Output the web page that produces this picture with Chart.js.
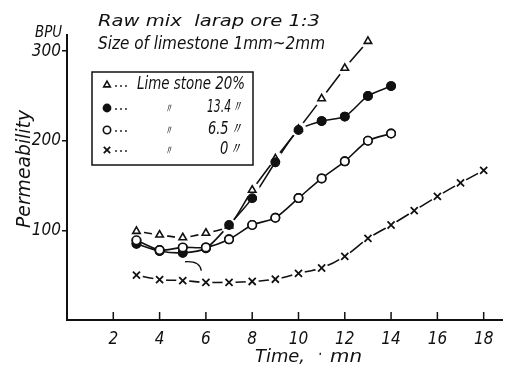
<!DOCTYPE html>
<html>
<head>
<meta charset="utf-8">
<script src="https://cdn.jsdelivr.net/npm/chart.js@4/dist/chart.umd.min.js"></script>
<style>
  html, body { margin: 0; background: #fff; }
</style>
</head>
<body>
<canvas id="c" width="509" height="367"></canvas>
<script>
// time (mn) and permeability (BPU)
const times = [3, 4, 5, 6, 7, 8, 9, 10, 11, 12, 13, 14, 15, 16, 17, 18];
const lime20 = [99, 95, 92, 97, 105, 145, 180, 213, 247, 281, 311];
const lime134 = [85, 77, 75, 80, 106, 136, 176, 212, 222, 227, 250, 261];
const lime65 = [89, 78, 81, 81, 90, 106, 114, 136, 158, 177, 200, 208];
const lime0 = [50, 45, 44, 42, 42, 43, 45.5, 52, 58, 71, 91, 106, 122, 138, 153, 167];
const xTicks = [2, 4, 6, 8, 10, 12, 14, 16, 18];
const yTicks = [100, 200, 300];

const ink = '#111';
const FAM = '"DejaVu Sans Condensed", "Liberation Sans Narrow", "DejaVu Sans", sans-serif';

const pts = arr => arr.map((v, i) => ({ x: times[i], y: v }));

// draw text squeezed to a given width (the original lettering is narrow)
function fitText(c, txt, x, y, w, size, align) {
  c.font = 'italic ' + size + 'px ' + FAM;
  const m = c.measureText(txt).width;
  const k = w / m;
  c.save();
  let x0 = x;
  if (align === 'right') x0 = x - w;
  if (align === 'center') x0 = x - w / 2;
  c.translate(x0, y);
  c.scale(k, 1);
  c.textAlign = 'left';
  c.textBaseline = 'middle';
  c.fillText(txt, 0, 0);
  c.restore();
}

// white rings round the markers so the lines stop short of them, like the ink drawing
const halo = {
  id: 'halo',
  afterDatasetsDraw(chart) {
    const c = chart.ctx;
    c.save();
    c.fillStyle = '#fff';
    chart.data.datasets.forEach((d, i) => {
      if (!d.gap) return;
      chart.getDatasetMeta(i).data.forEach(p => {
        c.beginPath();
        c.arc(p.x, p.y, d.pointRadius + d.gap, 0, Math.PI * 2);
        c.fill();
      });
    });
    c.restore();
    chart.data.datasets.forEach((d, i) => {
      chart.getDatasetMeta(i).data.forEach(p => p.draw(c, chart.chartArea));
    });
  }
};

const deco = {
  id: 'deco',
  afterDraw(chart) {
    const c = chart.ctx;
    const xs = chart.scales.x, ys = chart.scales.y;
    c.save();
    c.fillStyle = ink;
    c.strokeStyle = ink;

    // inward ticks on the time axis
    c.lineWidth = 1.5;
    xTicks.forEach(v => {
      const px = xs.getPixelForValue(v);
      c.beginPath();
      c.moveTo(px, ys.bottom);
      c.lineTo(px, ys.bottom - 8);
      c.stroke();
    });

    // headings
    fitText(c, 'Raw mix  larap ore 1:3', 98, 22, 222, 16);
    fitText(c, 'Size of limestone 1mm~2mm', 98, 44, 227, 18);
    fitText(c, 'BPU', 62, 33, 27, 15, 'right');
    fitText(c, 'Time,', 255, 357, 50, 18);
    fitText(c, '·', 318, 355, 4, 18);
    fitText(c, 'mn', 330, 357, 32, 18);

    c.save();
    c.translate(25, 169);
    c.rotate(-Math.PI / 2);
    fitText(c, 'Permeability', 0, 0, 118, 19, 'center');
    c.restore();

    // little leader curve under the 13.4 % point at 5 mn
    c.lineWidth = 1.3;
    c.beginPath();
    c.moveTo(xs.getPixelForValue(5.1), ys.getPixelForValue(65));
    c.quadraticCurveTo(xs.getPixelForValue(5.75), ys.getPixelForValue(66),
      xs.getPixelForValue(5.8), ys.getPixelForValue(55));
    c.stroke();

    // legend box
    c.lineWidth = 1.5;
    c.strokeRect(92, 72, 161, 93);
    const rows = [85, 108, 130, 150];
    const ds = chart.data.datasets;
    ds.forEach((d, i) => {
      c.fillStyle = d.pointBackgroundColor;
      c.strokeStyle = ink;
      c.lineWidth = d.pointBorderWidth;
      Chart.helpers.drawPoint(c, { pointStyle: d.pointStyle, radius: d.pointRadius - 0.5, borderWidth: d.pointBorderWidth }, 107, rows[i]);
      c.fillStyle = ink;
      for (let k = 0; k < 3; k++) {
        c.beginPath();
        c.arc(116 + k * 5, rows[i] + 1, 0.9, 0, Math.PI * 2);
        c.fill();
      }
    });
    fitText(c, 'Lime stone 20%', 137, rows[0], 108, 17);
    fitText(c, '〃', 168, rows[1] + 1, 9, 14, 'center');
    fitText(c, '13.4〃', 243, rows[1], 36, 17, 'right');
    fitText(c, '〃', 168, rows[2] + 1, 9, 14, 'center');
    fitText(c, '6.5〃', 243, rows[2], 35, 17, 'right');
    fitText(c, '〃', 168, rows[3] + 1, 9, 14, 'center');
    fitText(c, '0〃', 243, rows[3], 23, 17, 'right');
    c.restore();
  }
};

const ctx = document.getElementById('c').getContext('2d');

const myChart = new Chart(ctx, {
  type: 'line',
  data: {
    datasets: [
      {
        label: 'Lime stone 20%',
        data: pts(lime20),
        borderColor: ink,
        borderWidth: 1.6,
        tension: 0.25,
        pointStyle: 'triangle',
        pointRadius: 4.3,
        pointBackgroundColor: '#fff',
        pointBorderColor: ink,
        pointBorderWidth: 1.6,
        gap: 3.5
      },
      {
        label: '13.4%',
        data: pts(lime134),
        borderColor: ink,
        borderWidth: 1.6,
        tension: 0.25,
        pointStyle: 'circle',
        pointRadius: 4.2,
        pointBackgroundColor: ink,
        pointBorderColor: ink,
        pointBorderWidth: 1.4
      },
      {
        label: '6.5%',
        data: pts(lime65),
        borderColor: ink,
        borderWidth: 1.6,
        tension: 0.25,
        pointStyle: 'circle',
        pointRadius: 4.2,
        pointBackgroundColor: '#fff',
        pointBorderColor: ink,
        pointBorderWidth: 1.6
      },
      {
        label: '0%',
        data: pts(lime0),
        borderColor: ink,
        borderWidth: 1.6,
        tension: 0.25,
        pointStyle: 'crossRot',
        pointRadius: 5,
        pointBackgroundColor: ink,
        pointBorderColor: ink,
        pointBorderWidth: 1.8,
        gap: 1.5
      }
    ]
  },
  options: {
    responsive: false,
    animation: false,
    layout: { padding: { top: 35, right: 2, left: 0, bottom: 0 } },
    plugins: {
      legend: { display: false },
      tooltip: { enabled: false }
    },
    scales: {
      x: {
        type: 'linear',
        min: 0,
        max: 18.8,
        afterBuildTicks: s => { s.ticks = xTicks.map(v => ({ value: v })); },
        afterFit: s => { s.height = 47; },
        grid: { drawOnChartArea: false, drawTicks: false },
        border: { color: ink, width: 2 },
        ticks: {
          padding: 9,
          color: ink,
          font: { family: FAM, style: 'italic', size: 17 }
        }
      },
      y: {
        min: 0,
        max: 318,
        afterBuildTicks: s => { s.ticks = yTicks.map(v => ({ value: v })); },
        afterFit: s => { s.width = 67; },
        grid: { drawOnChartArea: false, tickLength: 5, color: ink, lineWidth: 1.5 },
        border: { color: ink, width: 2 },
        ticks: {
          padding: 1,
          color: ink,
          font: { family: FAM, style: 'italic', size: 17 }
        }
      }
    }
  },
  plugins: [halo, deco]
});
</script>
</body>
</html>
